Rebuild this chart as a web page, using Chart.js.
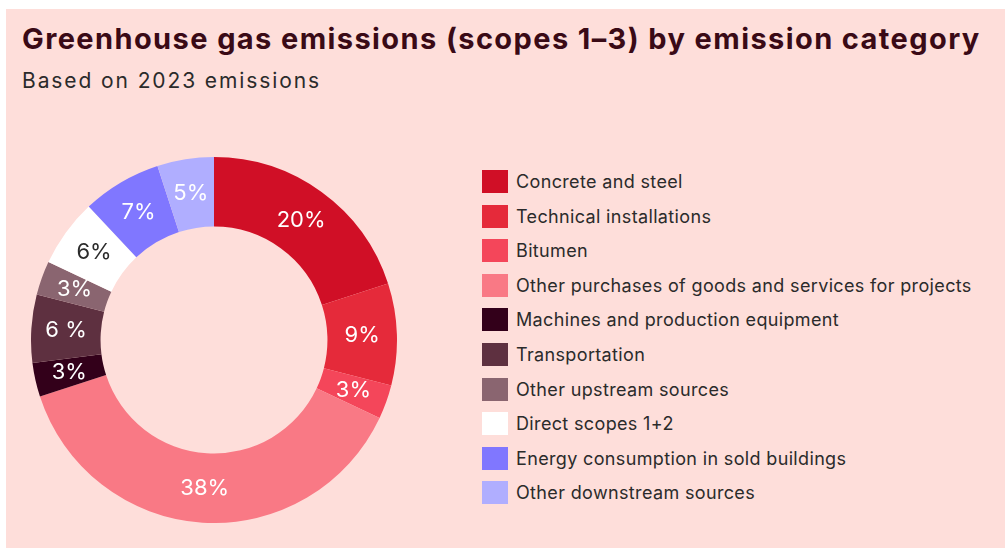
<!DOCTYPE html>
<html>
<head>
<meta charset="utf-8">
<script src="https://cdn.jsdelivr.net/npm/chart.js@4"></script>
<style>
  html, body { margin: 0; padding: 0; background: #ffffff; }
  body { width: 1005px; height: 548px; position: relative; overflow: hidden; font-family: Inter, 'Noto Sans', sans-serif; }
  #panel { position: absolute; left: 6px; top: 9px; width: 999px; height: 539px; background: #fedeDA; }
  h1 { position: absolute; left: 16px; top: 12px; margin: 0; font-size: 29px; font-weight: 700; color: #3a0a16; white-space: nowrap; letter-spacing: 1.4px; }
  h2 { position: absolute; left: 16px; top: 59px; margin: 0; font-size: 21px; font-weight: 400; color: #2b2b2b; white-space: nowrap; letter-spacing: 1.9px; }
  #chartBox { position: absolute; left: 25px; top: 148px; width: 366px; height: 366px; }
  #legend { position: absolute; left: 476px; top: 161px; margin: 0; padding: 0; list-style: none; }
  #legend li { display: flex; align-items: center; height: 23px; margin-bottom: 11.6px; font-size: 18px; color: #2b2b2b; white-space: nowrap; letter-spacing: 0.35px; }
  #legend .box { width: 26px; height: 23px; margin-right: 8px; flex: none; }
</style>
</head>
<body>
<div id="panel">
  <h1>Greenhouse gas emissions (scopes 1–3) by emission category</h1>
  <h2>Based on 2023 emissions</h2>
  <div id="chartBox"><canvas id="donut"></canvas></div>
  <ul id="legend"></ul>
</div>
<script>
const categories = [
  'Concrete and steel',
  'Technical installations',
  'Bitumen',
  'Other purchases of goods and services for projects',
  'Machines and production equipment',
  'Transportation',
  'Other upstream sources',
  'Direct scopes 1+2',
  'Energy consumption in sold buildings',
  'Other downstream sources'
];
const shares = [20, 9, 3, 38, 3, 6, 3, 6, 7, 5];
const shareLabels = ['20%', '9%', '3%', '38%', '3%', '6 %', '3%', '6%', '7%', '5%'];
const sliceColors = ['#d00f26', '#e52a3a', '#f4465a', '#f97985', '#33001a', '#5e3040', '#8a6570', '#ffffff', '#8077ff', '#b0aeff'];
const labelColors = ['#fff', '#fff', '#fff', '#fff', '#fff', '#fff', '#fff', '#2b2b2b', '#fff', '#fff'];

const sliceLabels = {
  id: 'sliceLabels',
  afterDatasetsDraw(chart) {
    const ctx = chart.ctx;
    const meta = chart.getDatasetMeta(0);
    ctx.save();
    ctx.font = '22px Inter, "Noto Sans", sans-serif';
    ctx.textAlign = 'center';
    ctx.textBaseline = 'middle';
    meta.data.forEach((arc, i) => {
      const p = arc.tooltipPosition();
      ctx.fillStyle = labelColors[i];
      ctx.fillText(shareLabels[i], p.x, p.y);
    });
    ctx.restore();
  }
};

const chart = new Chart(document.getElementById('donut'), {
  type: 'doughnut',
  data: {
    labels: categories,
    datasets: [{
      data: shares,
      backgroundColor: sliceColors,
      borderWidth: 0
    }]
  },
  options: {
    responsive: true,
    maintainAspectRatio: false,
    animation: false,
    cutout: '62%',
    layout: { padding: 0 },
    plugins: {
      legend: { display: false },
      tooltip: { enabled: false }
    }
  },
  plugins: [sliceLabels]
});

const legendEl = document.getElementById('legend');
categories.forEach((name, i) => {
  const li = document.createElement('li');
  const box = document.createElement('span');
  box.className = 'box';
  box.style.background = sliceColors[i];
  li.appendChild(box);
  li.appendChild(document.createTextNode(name));
  legendEl.appendChild(li);
});
</script>
</body>
</html>
